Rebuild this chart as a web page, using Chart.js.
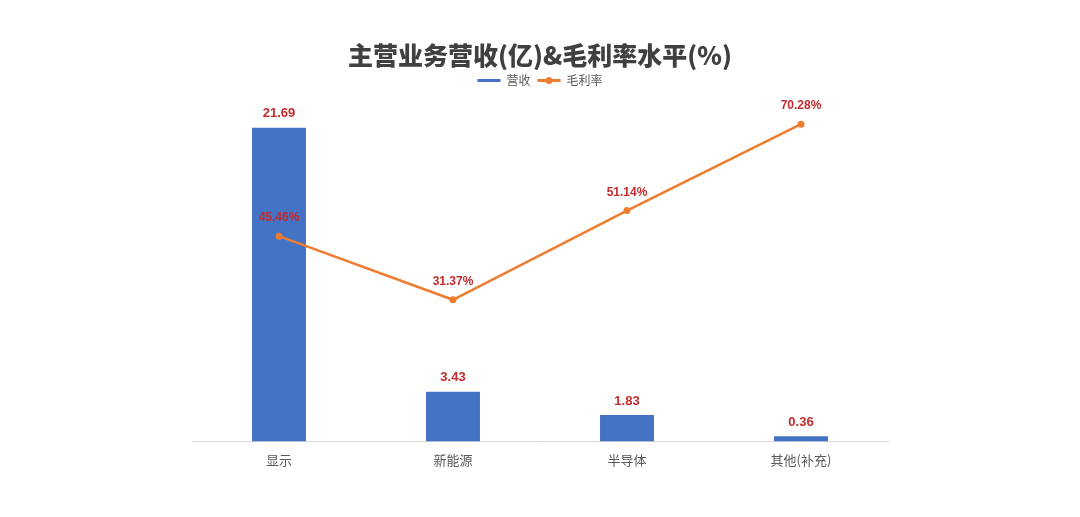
<!DOCTYPE html>
<html>
<head>
<meta charset="utf-8">
<script src="https://cdn.jsdelivr.net/npm/chart.js@4"></script>
<style>
  html, body { margin: 0; padding: 0; background: #fff; }
  #wrap { width: 1080px; height: 517px; }
</style>
</head>
<body>
<div id="wrap"><canvas id="mix-chart"></canvas></div>
<script>
// data
let categories = ['显示', '新能源', '半导体', '其他(补充)']
let revenue = [21.69, 3.43, 1.83, 0.36]
let grossMargin = [45.46, 31.37, 51.14, 70.28]

let blue = '#4472c4'
let orange = '#ed7d31'
let labelRed = '#c42b2b'

// value labels above bars and points
let valueLabels = {
    id: 'valueLabels',
    afterDatasetsDraw(chart) {
        let ctx = chart.ctx
        ctx.save()
        ctx.fillStyle = labelRed
        ctx.textAlign = 'center'
        ctx.textBaseline = 'middle'
        chart.data.datasets.forEach(function(ds, i) {
            let meta = chart.getDatasetMeta(i)
            meta.data.forEach(function(el, j) {
                let v = ds.data[j]
                if (ds.type === 'line') {
                    ctx.font = 'bold 12px "Liberation Sans", Arial, sans-serif'
                    ctx.fillText(v.toFixed(2) + '%', el.x, el.y - 18)
                } else {
                    ctx.font = 'bold 13px "Liberation Sans", Arial, sans-serif'
                    ctx.fillText(v.toFixed(2), el.x, el.y - 14)
                }
            })
        })
        ctx.restore()
    },
    afterDraw(chart) {
        // dot on the line legend marker
        let legend = chart.legend
        let boxes = legend && legend.legendHitBoxes
        if (!boxes || boxes.length < 2) return
        let b = boxes[1]
        let ctx = chart.ctx
        ctx.save()
        ctx.fillStyle = orange
        ctx.beginPath()
        ctx.arc(b.left + 11.5, b.top + b.height / 2, 3.5, 0, Math.PI * 2)
        ctx.closePath()
        ctx.fill()
        ctx.restore()
    }
}

let chart = new Chart(document.querySelector('#mix-chart'), {
    data: {
        labels: categories,
        datasets: [
            {
                type: 'bar',
                label: '营收',
                data: revenue,
                backgroundColor: blue,
                yAxisID: 'yBar',
                categoryPercentage: 1,
                barPercentage: 0.31,
                order: 2
            },
            {
                type: 'line',
                label: '毛利率',
                data: grossMargin,
                borderColor: orange,
                backgroundColor: orange,
                borderWidth: 2.5,
                pointRadius: 3.5,
                pointBackgroundColor: orange,
                pointBorderWidth: 0,
                yAxisID: 'yLine',
                tension: 0,
                order: 1
            }
        ]
    },
    options: {
        responsive: true,
        maintainAspectRatio: false,
        animation: false,
        layout: { padding: { left: 192, right: 192, top: 0, bottom: 46 } },
        plugins: {
            title: {
                display: true,
                text: '主营业务营收(亿)&毛利率水平(%)',
                color: '#404040',
                font: { family: '"Noto Sans CJK SC", sans-serif', size: 25, weight: '900', lineHeight: 1 },
                padding: { top: 42.5, bottom: 0 }
            },
            legend: {
                display: true,
                labels: {
                    color: '#595959',
                    font: { family: '"Noto Sans CJK SC", sans-serif', size: 12 },
                    boxWidth: 23,
                    boxHeight: 3,
                    padding: 7,
                    sort: function(a, b) { return a.datasetIndex - b.datasetIndex },
                    generateLabels: function(chart) {
                        let items = Chart.defaults.plugins.legend.labels.generateLabels(chart)
                        items.forEach(function(it) { it.lineWidth = 0 })
                        return items
                    }
                }
            },
            tooltip: { enabled: false }
        },
        scales: {
            x: {
                grid: { display: false },
                border: { display: true, color: '#d9d9d9', width: 1 },
                ticks: {
                    color: '#595959',
                    font: { family: '"Noto Sans CJK SC", sans-serif', size: 13 },
                    padding: 3
                }
            },
            yBar: {
                display: false,
                position: 'left',
                min: 0,
                max: 23.85
            },
            yLine: {
                display: false,
                position: 'right',
                min: 0,
                max: 76.4
            }
        }
    },
    plugins: [valueLabels]
})
</script>
</body>
</html>
